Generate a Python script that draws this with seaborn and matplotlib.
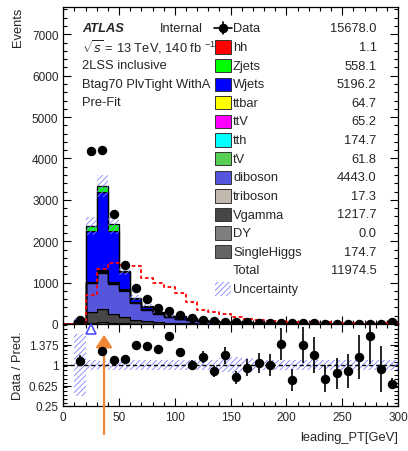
import numpy as np
import pandas as pd
import matplotlib.pyplot as plt
import matplotlib.transforms as mtransforms
from matplotlib.patches import Rectangle
from matplotlib.lines import Line2D
from matplotlib.ticker import MultipleLocator, FixedLocator, FuncFormatter
import seaborn as sns

# binning: leading lepton pT, 10 GeV bins
edges = np.arange(0, 310, 10)
centers = edges[:-1] + 5

data = [0, 100, 4190, 4200, 2657, 1433, 870, 596, 386, 306, 225, 153, 105, 65, 60,
        45, 38, 30, 25, 22, 13, 17, 13, 9, 9, 8, 8, 9, 5, 40]

# background samples, per bin
hh = [0, 0, 0.0625, 0.1179, 0.1313, 0.1277, 0.125, 0.0982, 0.0893, 0.0804, 0.0661, 0.0473,
      0.0295, 0.0259, 0.0214, 0.0152, 0.0107, 0.0089, 0.0071, 0.0054, 0.0049, 0.0045, 0.004,
      0.0036, 0.0031, 0.0029, 0.0027, 0.0025, 0.0022, 0.0022]
zjets = [0, 5, 121, 130, 177, 40, 34, 39, 12, 8, 7, 5, 3, 2.5, 1.6, 2.4, 1.75, 1, 1, 0.5,
         0.6, 0.5, 0.5, 0.6, 0.5, 0.4, 0.2, 0.2, 0.2, 3]
wjets = [0, 33, 1228, 1900, 1223, 400, 70, 40, 25, 8, 45, 34, 6, 5, 3.5, 5, 3.5, 2.5, 2.5, 1,
         1.5, 1.4, 1.3, 1.6, 1.4, 1.2, 0.5, 0.5, 0.5, 6]
ttbar = [0, 1, 10, 14, 10, 7, 5, 4, 3, 2, 1.5, 1.2, 1, 0.8, 0.6, 0.5, 0.4, 0.3, 0.3, 0.2,
         0.2, 0.2, 0.1, 0.1, 0.1, 0.1, 0.1, 0.1, 0.1, 1]
ttv = [0, 0.2, 7, 12, 10, 8, 6, 5, 4, 3, 2, 1.5, 1.2, 1, 0.8, 0.6, 0.5, 0.4, 0.3, 0.3,
       0.2, 0.2, 0.2, 0.1, 0.1, 0.1, 0.1, 0.1, 0.1, 1]
tth = [0, 0.5, 20, 35, 30, 22, 16, 12, 9, 7, 5, 4, 3, 2.5, 2, 1.5, 1.2, 1, 0.8, 0.6,
       0.5, 0.4, 0.4, 0.3, 0.3, 0.2, 0.2, 0.2, 0.2, 2]
tv = [0, 0.5, 8, 12, 9, 7, 5, 4, 3, 2, 1.5, 1.2, 1, 0.8, 0.6, 0.5, 0.4, 0.3, 0.3, 0.2,
      0.2, 0.2, 0.1, 0.1, 0.1, 0.1, 0.1, 0.1, 0.1, 1]
diboson = [0, 30, 700, 860, 720, 640, 402, 266, 191, 140, 100, 90, 65, 52, 35, 42, 28, 20,
           17, 11, 13, 8, 7, 8, 7, 6, 5, 4, 3.5, 38]
triboson = [0, 0.2, 1.5, 2.5, 2.2, 1.8, 1.4, 1.1, 0.9, 0.8, 0.7, 0.6, 0.5, 0.4, 0.35, 0.3,
            0.25, 0.2, 0.2, 0.15, 0.15, 0.1, 0.1, 0.1, 0.1, 0.1, 0.1, 0.1, 0.1, 0.5]
vgamma = [0, 20, 250, 320, 208, 144, 85, 63, 43, 25, 16, 12, 8, 6, 5, 4, 3, 2.5, 2, 1.5,
          1.2, 1, 1, 0.8, 0.7, 0.6, 0.5, 0.4, 0.4, 4]
dy = [0.0] * 30
single_higgs = [0, 2, 30, 38, 26, 18, 12, 9, 7, 5, 4, 3, 2.5, 2, 1.5, 1.2, 1, 0.8, 0.6, 0.5,
                0.4, 0.4, 0.3, 0.3, 0.3, 0.2, 0.2, 0.2, 0.2, 4]

# relative syst uncertainty per bin
rel_unc = [0, 0.57, 0.09, 0.08, 0.1, 0.09, 0.09, 0.09, 0.1, 0.1, 0.1, 0.1, 0.1, 0.1, 0.13,
           0.15, 0.12, 0.1, 0.1, 0.1, 0.1, 0.1, 0.1, 0.1, 0.1, 0.1, 0.1, 0.1, 0.1, 0.1]

hh_scale = 11200  # signal overlay scaling

names = ['hh', 'Zjets', 'Wjets', 'ttbar', 'ttV', 'tth', 'tV', 'diboson', 'triboson',
         'Vgamma', 'DY', 'SingleHiggs']
samples = [hh, zjets, wjets, ttbar, ttv, tth, tv, diboson, triboson, vgamma, dy, single_higgs]
colors = ['#ff0000', '#00ff00', '#0000ff', '#ffff00', '#ff00ff', '#00ffff', '#55d055',
          '#5656dc', '#c2b8ae', '#464646', '#7f7f7f', '#646464']
yields = ['1.1', '558.1', '5196.2', '64.7', '65.2', '174.7', '61.8', '4443.0', '17.3',
          '1217.7', '0.0', '174.7']
data_yield = '15678.0'
total_yield = '11974.5'

sns.set_theme(style='ticks')
plt.rcParams['font.family'] = ['Liberation Sans', 'DejaVu Sans']
plt.rcParams['mathtext.fontset'] = 'custom'
plt.rcParams['mathtext.rm'] = 'Liberation Sans'
plt.rcParams['hatch.linewidth'] = 0.6
plt.rcParams['axes.linewidth'] = 0.9
fs = 8.5     # tick labels
fl = 9.3     # legend / labels

df = pd.concat([pd.DataFrame({'x': centers.astype(float), 'w': np.array(s, dtype=float), 'sample': n})
                for n, s in zip(names, samples)], ignore_index=True)
bins = [float(e) for e in edges]

data = np.array(data, dtype=float)
total = np.sum([np.array(s) for s in samples], axis=0)
unc = np.array(rel_unc)

fig = plt.figure(figsize=(4.08, 4.52), dpi=100)
ax1 = fig.add_axes([63.3 / 408, 1 - 325 / 452, 334.7 / 408, 317 / 452])
ax2 = fig.add_axes([63.3 / 408, 1 - 407 / 452, 334.7 / 408, 82 / 452])

# stacked backgrounds
sns.histplot(data=df, x='x', weights='w', hue='sample', hue_order=names, palette=colors,
             bins=bins, multiple='stack', element='step', alpha=1, edgecolor='black',
             linewidth=0.8, legend=False, ax=ax1)

# hh overlay
sig = pd.DataFrame({'x': centers.astype(float), 'w': np.array(hh) * hh_scale})
sns.histplot(data=sig, x='x', weights='w', bins=bins, element='step', fill=False,
             color='red', linewidth=1.3, linestyle=(0, (2, 1.5)), ax=ax1)

# uncertainty band
lo = np.append(total * (1 - unc), 0)
hi = np.append(total * (1 + unc), 0)
ax1.fill_between(edges, lo, hi, step='post', facecolor='none', edgecolor='#8080ff',
                 hatch='//////', linewidth=0, zorder=3)

m = data > 0
ax1.errorbar(centers[m], data[m], yerr=np.sqrt(data[m]), fmt='o', color='black', ms=5.8,
             elinewidth=1.2, capsize=0, zorder=5)

ax1.set_xlim(0, 300)
ax1.set_ylim(0, 7660)
ax1.set_xlabel('')
ax1.set_ylabel('Events', fontsize=fl, loc='top')
ax1.yaxis.set_label_coords(-0.118, 1.0)
ax1.xaxis.set_major_locator(MultipleLocator(50))
ax1.xaxis.set_minor_locator(MultipleLocator(10))
ax1.yaxis.set_major_locator(MultipleLocator(1000))
ax1.yaxis.set_minor_locator(MultipleLocator(200))
ax1.tick_params(labelbottom=False)

# ratio panel
safe_total = np.where(total > 0, total, 1)
ratio = data / safe_total
rerr = np.sqrt(data) / safe_total
rlo = np.append(1 - unc, 1)
rhi = np.append(1 + unc, 1)
ax2.fill_between(edges, rlo, rhi, step='post', facecolor='none', edgecolor='#8080ff',
                 hatch='//////', linewidth=0, zorder=2)
ax2.axhline(1, color='black', linestyle=(0, (3, 2)), linewidth=1.0, zorder=3)
ymax = 1.75
ok = m & (ratio <= ymax)
ax2.errorbar(centers[ok], ratio[ok], yerr=rerr[ok], fmt='o', color='black', ms=5.8,
             elinewidth=1.2, capsize=0, zorder=5)
over = m & (ratio > ymax)
ax2.plot(centers[over], np.full(over.sum(), ymax - 0.09), linestyle='none', marker='^',
         mfc='none', mec='#4d4dff', ms=6.5, mew=1.2, clip_on=False, zorder=6)

ax2.set_xlim(0, 300)
ax2.set_ylim(0.25, ymax)
ax2.set_ylabel('Data / Pred.', fontsize=fl)
ax2.yaxis.set_label_coords(-0.118, 0.5)
ax2.set_xlabel('leading_PT[GeV]', fontsize=fl, loc='right')
ax2.xaxis.set_label_coords(1.0, -0.31)
ax2.xaxis.set_major_locator(MultipleLocator(50))
ax2.xaxis.set_minor_locator(MultipleLocator(10))
ax2.yaxis.set_major_locator(FixedLocator([0.25, 0.625, 1.0, 1.375]))
ax2.yaxis.set_minor_locator(MultipleLocator(0.075))
ax2.yaxis.set_major_formatter(FuncFormatter(lambda v, p: '%g' % v))

for ax in (ax1, ax2):
    ax.tick_params(which='both', direction='in', top=True, right=True, labelsize=fs,
                   color='black', width=0.8)
    ax.tick_params(which='major', length=5.5, pad=3.5)
    ax.tick_params(which='minor', length=3)
    for s in ax.spines.values():
        s.set_color('black')

# orange arrow
ax2.annotate('', xy=(36.5, 1.55), xycoords='data', xytext=(36.5, 17),
             textcoords=('data', 'figure pixels'), annotation_clip=False,
             arrowprops=dict(arrowstyle='-|>,head_length=0.75,head_width=0.5', color='#ef8636',
                             lw=1.6, mutation_scale=10, shrinkA=0, shrinkB=0))

# text + legend in figure pixels (from top-left)
tr = mtransforms.Affine2D().scale(1 / 408, -1 / 452).translate(0, 1) + fig.transFigure

fig.text(82, 29, 'ATLAS', transform=tr, fontsize=fl, weight='bold', style='italic', va='center', zorder=5)
fig.text(160, 29, 'Internal', transform=tr, fontsize=fl, va='center', zorder=5)
fig.text(82, 47, r'$\sqrt{s}$ = 13 TeV, 140 fb $^{-1}$', transform=tr, fontsize=fl, va='center', zorder=5)
fig.text(82, 66, '2LSS inclusive', transform=tr, fontsize=fl, va='center', zorder=5)
fig.text(82, 85, 'Btag70 PlvTight WithA', transform=tr, fontsize=fl, va='center', zorder=5)
fig.text(82, 103, 'Pre-Fit', transform=tr, fontsize=fl, va='center', zorder=5)

row0, dr = 29.3, 18.62
bx, bw, bh = 215, 16, 13.3
lx, nx = 233, 376.5

# data row
yc = row0
fig.add_artist(Line2D([214, 232], [yc, yc], transform=tr, color='black', lw=1.2, zorder=7))
fig.add_artist(Line2D([223, 223], [yc - 6, yc + 6], transform=tr, color='black', lw=1.2, zorder=7))
fig.add_artist(Line2D([223], [yc], transform=tr, marker='o', ms=5.8, color='black', zorder=7))
fig.text(lx, yc, 'Data', transform=tr, fontsize=fl, va='center', zorder=7)
fig.text(nx, yc, data_yield, transform=tr, fontsize=fl, va='center', ha='right', zorder=7)

for i, (n, c, y) in enumerate(zip(names, colors, yields)):
    yc = row0 + dr * (i + 1)
    fig.add_artist(Rectangle((bx, yc - bh / 2), bw, bh, transform=tr, facecolor=c,
                             edgecolor='#333333', lw=0.7, zorder=7))
    fig.text(lx, yc, n, transform=tr, fontsize=fl, va='center', zorder=7)
    fig.text(nx, yc, y, transform=tr, fontsize=fl, va='center', ha='right', zorder=7)

yc = row0 + dr * 13
fig.text(lx, yc, 'Total', transform=tr, fontsize=fl, va='center', zorder=7)
fig.text(nx, yc, total_yield, transform=tr, fontsize=fl, va='center', ha='right', zorder=7)
yc = row0 + dr * 14
fig.add_artist(Rectangle((bx, yc - bh / 2), bw, bh, transform=tr, facecolor='none',
                         edgecolor='#8080ff', hatch='//////', lw=0, zorder=7))
fig.text(lx, yc, 'Uncertainty', transform=tr, fontsize=fl, va='center', zorder=7)

fig.savefig('out.png', dpi=100)
